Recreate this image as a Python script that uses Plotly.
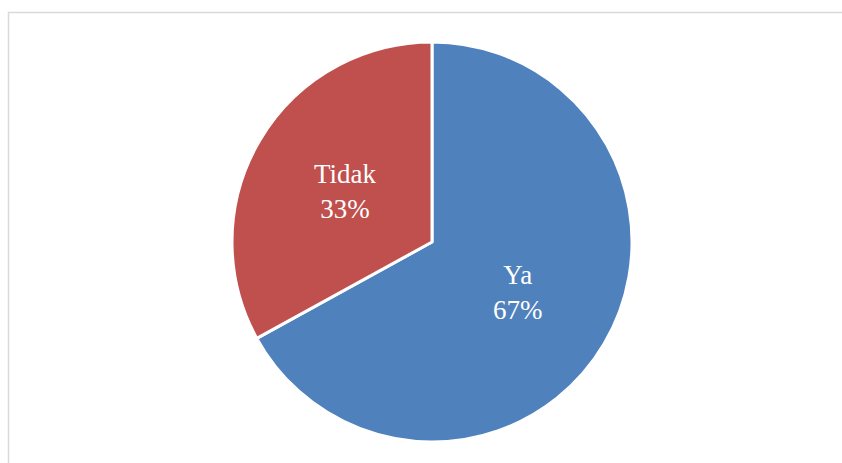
import math
import plotly.graph_objects as go

# Survey answers and their shares
labels = ["Ya", "Tidak"]
values = [67, 33]
colors = ["#4F81BD", "#C0504D"]

W, H = 842, 463
cx, cy, r = 432, 242, 200  # pie centre and radius in pixels

fig = go.Figure(
    go.Pie(
        labels=labels,
        values=values,
        sort=False,
        direction="clockwise",
        rotation=0,
        marker=dict(colors=colors, line=dict(color="white", width=3)),
        textinfo="none",
        hoverinfo="label+percent",
        showlegend=False,
        domain=dict(x=[(cx - r) / W, (cx + r) / W],
                    y=[(H - cy - r) / H, (H - cy + r) / H]),
    )
)

# Labels at half the radius along each slice's bisector
total = sum(values)
annotations = []
start = 0.0
for lab, v in zip(labels, values):
    mid = start + v / total / 2
    ang = 2 * math.pi * mid  # clockwise from 12 o'clock
    x = cx + 0.5 * r * math.sin(ang)
    y = cy - 0.5 * r * math.cos(ang)
    annotations.append(dict(
        x=x / W, y=1 - y / H, xref="paper", yref="paper",
        text=f"{lab}<br>{round(v / total * 100)}%",
        showarrow=False, align="center",
        font=dict(family="Liberation Serif, DejaVu Serif, serif", size=27, color="white"),
    ))
    start += v / total

fig.update_layout(
    width=W, height=H,
    margin=dict(l=0, r=0, t=0, b=0),
    paper_bgcolor="white",
    plot_bgcolor="white",
    annotations=annotations,
    shapes=[dict(type="rect", xref="paper", yref="paper",
                 x0=8.5 / W, x1=1.2, y0=-0.2, y1=1 - 12.5 / H,
                 line=dict(color="#D9D9D9", width=1.5), layer="below")],
)

fig.write_html("out.html")
